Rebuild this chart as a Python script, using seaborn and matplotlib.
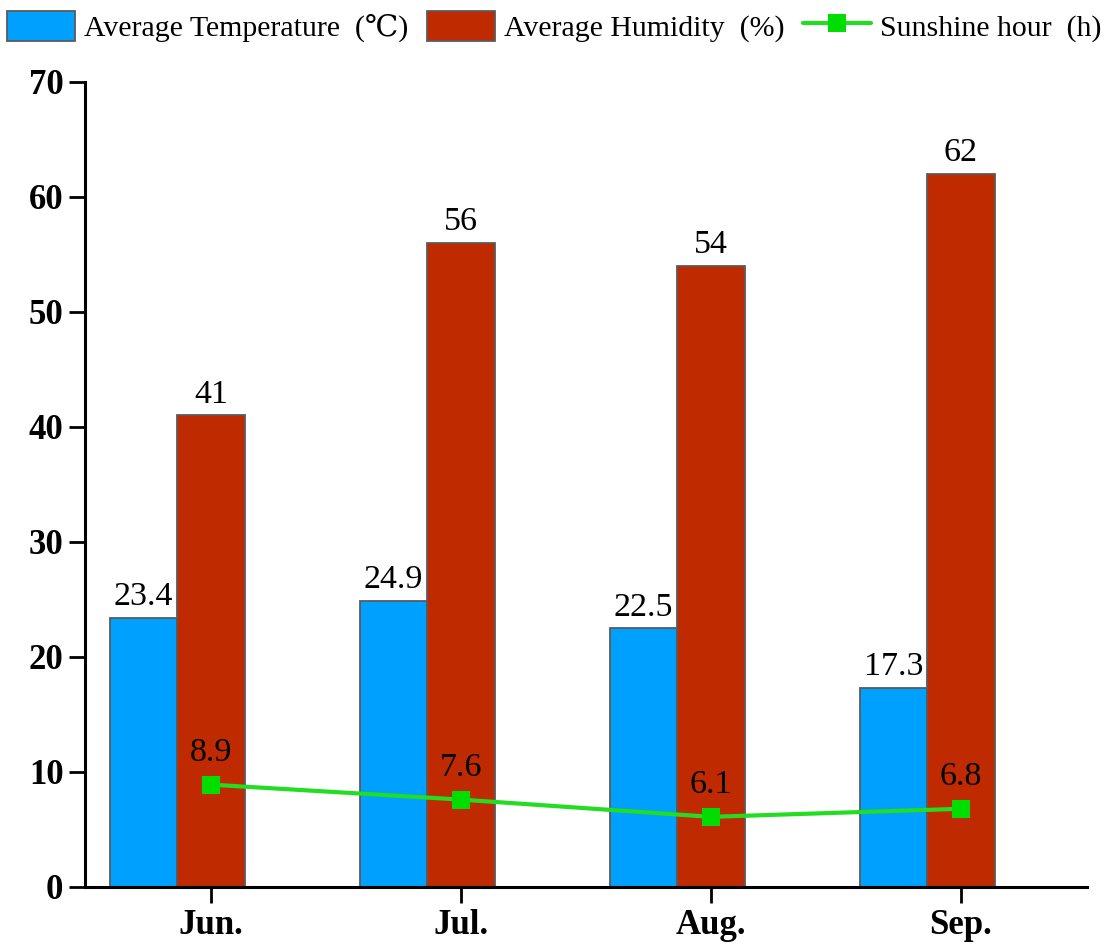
import numpy as np
import pandas as pd
import seaborn as sns
import matplotlib.pyplot as plt
from matplotlib.patches import Patch
from matplotlib.lines import Line2D

months = ["Jun.", "Jul.", "Aug.", "Sep."]
temperature = [23.4, 24.9, 22.5, 17.3]
humidity = [41, 56, 54, 62]
sunshine = [8.9, 7.6, 6.1, 6.8]

temp_name = "Average Temperature  (\u2103)"
hum_name = "Average Humidity  (%)"
sun_name = "Sunshine hour  (h)"

blue = "#00A0FF"
red = "#C02A00"
green = "#22DD22"

sns.set_theme(style="ticks")
plt.rcParams['font.family'] = ['Liberation Serif', 'DejaVu Serif']
plt.rcParams['text.color'] = 'black'
plt.rcParams['xtick.color'] = 'black'
plt.rcParams['ytick.color'] = 'black'
plt.rcParams['axes.labelcolor'] = 'black'

df = pd.DataFrame({
    "month": months * 2,
    "series": [temp_name] * 4 + [hum_name] * 4,
    "value": temperature + humidity,
})

fig = plt.figure(figsize=(11.17, 9.51), dpi=100)
ax = fig.add_axes([0.0761, 0.0673, 0.897, 0.8465])

bw = 0.54
sns.barplot(data=df, x="month", y="value", hue="series", palette=[blue, red],
            width=bw, saturation=1, edgecolor="#5a5a5a", linewidth=1.3,
            legend=False, ax=ax)

labels_sets = [[f"{v:.1f}" for v in temperature], [f"{v:d}" for v in humidity]]
for cont, labs in zip(ax.containers, labels_sets):
    ax.bar_label(cont, labels=labs, padding=4, fontsize=24.5, color="black")

shift = bw / 4
xpos = np.arange(len(months)) + shift
sns.lineplot(x=xpos, y=sunshine, color=green, linewidth=3, marker="s",
             markersize=13, markerfacecolor="#00DD00", markeredgewidth=0,
             ax=ax)
for x, v in zip(xpos, sunshine):
    ax.annotate(f"{v:.1f}", (x, v), xytext=(0, 12), textcoords="offset points",
                ha="center", va="bottom", fontsize=24.5, color="black")

ax.set_ylim(0, 70)
ax.set_yticks(range(0, 71, 10))
ax.set_xticks(xpos)
ax.set_xticklabels(months)
ax.set_xlim(shift - 0.504, shift + 3.504)
ax.set_xlabel("")
ax.set_ylabel("")
sns.despine(ax=ax)
for s in ["left", "bottom"]:
    ax.spines[s].set_linewidth(2.2)
    ax.spines[s].set_color("black")
ax.tick_params(axis="both", direction="out", length=11.5, width=2, color="black",
               labelcolor="black", labelsize=25, pad=4)
for lab in ax.get_xticklabels() + ax.get_yticklabels():
    lab.set_fontweight("bold")

handles = [
    Patch(facecolor=blue, edgecolor="#5a5a5a", linewidth=1.3),
    Patch(facecolor=red, edgecolor="#5a5a5a", linewidth=1.3),
    Line2D([], [], color=green, linewidth=3, marker="s", markersize=13,
           markerfacecolor="#00DD00", markeredgewidth=0),
]
fig.legend(handles, [temp_name, hum_name, sun_name], loc="center left",
           bbox_to_anchor=(0.006, 0.972), ncol=3, frameon=False, fontsize=21.5,
           handlelength=2.3, handleheight=1.15, handletextpad=0.3,
           columnspacing=0.6, borderpad=0, borderaxespad=0)

fig.savefig("out.png", dpi=100)
